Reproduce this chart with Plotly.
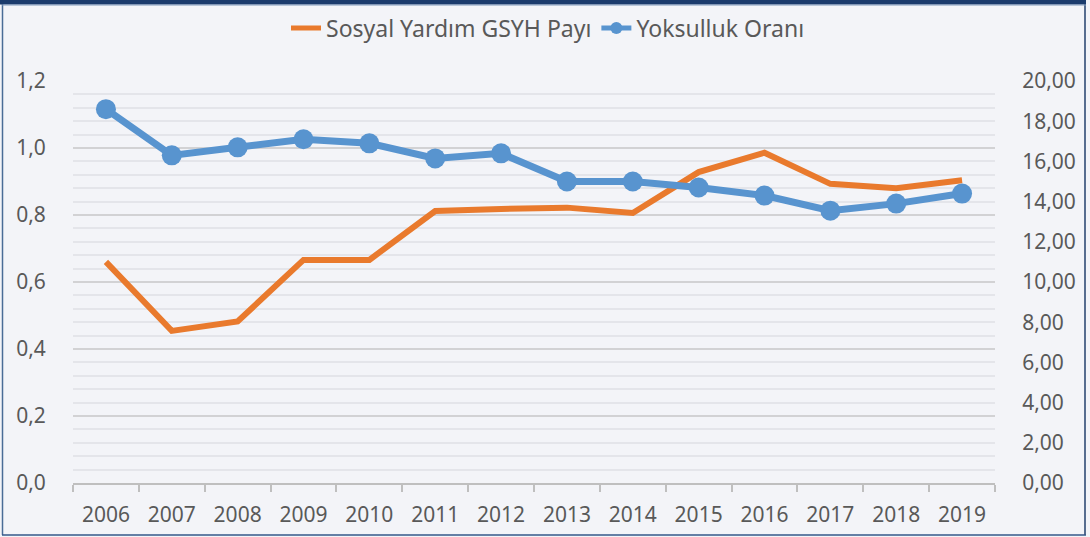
import plotly.graph_objects as go

years = ["2006", "2007", "2008", "2009", "2010", "2011", "2012",
         "2013", "2014", "2015", "2016", "2017", "2018", "2019"]
sosyal_yardim = [0.66, 0.454, 0.482, 0.666, 0.666, 0.812, 0.818,
                 0.822, 0.806, 0.928, 0.986, 0.893, 0.880, 0.904]
yoksulluk = [18.6, 16.3, 16.7, 17.1, 16.9, 16.15, 16.4,
             15.0, 15.0, 14.7, 14.3, 13.55, 13.9, 14.4]

ORANGE = "#E97A2D"
BLUE = "#5894CF"
TXT = "#595959"
FONT = "Noto Sans"

fig = go.Figure()
fig.add_trace(go.Scatter(
    x=years, y=sosyal_yardim, name="Sosyal Yardım GSYH Payı",
    mode="lines", line=dict(color=ORANGE, width=6), yaxis="y"))
fig.add_trace(go.Scatter(
    x=years, y=yoksulluk, name="Yoksulluk Oranı",
    mode="lines+markers", line=dict(color=BLUE, width=7),
    marker=dict(color=BLUE, size=20), yaxis="y2"))

L, R, T, B = 73, 95, 81, 54
W, H = 1090, 537
pw, ph = W - L - R, H - T - B

def px(x):
    return (x - L) / pw

def py(y):
    return (H - B - y) / ph

shapes = [
    # frame
    dict(type="line", xref="paper", yref="paper", x0=px(2.5), x1=px(2.5), y0=py(2), y1=py(535),
         line=dict(color="#4A6C96", width=1.5)),
    dict(type="line", xref="paper", yref="paper", x0=px(1085), x1=px(1085), y0=py(2), y1=py(535),
         line=dict(color="#23406D", width=1.5)),
    dict(type="line", xref="paper", yref="paper", x0=px(2), x1=px(1086), y0=py(535), y1=py(535),
         line=dict(color="#34598A", width=1.5)),
    dict(type="rect", xref="paper", yref="paper", x0=px(0), x1=px(1086), y0=py(0), y1=py(4.5),
         fillcolor="#1B3B6C", line=dict(width=0)),
    dict(type="line", xref="paper", yref="paper", x0=px(2), x1=px(1086), y0=py(5), y1=py(5),
         line=dict(color="#7F97BA", width=1)),
]

fig.update_layout(
    width=W, height=H,
    margin=dict(l=L, r=R, t=T, b=B, autoexpand=False),
    paper_bgcolor="#F3F4F8", plot_bgcolor="#F3F4F8",
    separators=", ",
    font=dict(family=FONT, color=TXT, size=20),
    showlegend=True,
    legend=dict(orientation="h", x=px(548), xanchor="center", y=py(28), yanchor="middle",
                font=dict(size=23, color=TXT), bgcolor="rgba(0,0,0,0)",
                itemsizing="constant", tracegroupgap=0),
    xaxis=dict(type="category", tickson="boundaries", ticks="outside", ticklen=7,
               tickcolor="#BFBFBF", tickwidth=1.5, showline=True, linecolor="#BFBFBF",
               linewidth=1.5, showgrid=False, tickfont=dict(size=21, color=TXT),
               ticklabelstandoff=12, range=[-0.5, 13.5], automargin=False),
    yaxis=dict(range=[0, 1.2], dtick=0.2, tickformat=".1f", showgrid=True,
               gridcolor="#D2D2D4", gridwidth=1.5, zeroline=False, showline=False,
               ticks="outside", ticklen=22, tickcolor="rgba(0,0,0,0)",
               tickfont=dict(size=21, color=TXT), automargin=False,
               minor=dict(dtick=0.04, showgrid=True, gridcolor="#E4E5EA", gridwidth=1.5)),
    yaxis2=dict(range=[0, 20], dtick=2, tickformat=".2f", overlaying="y", side="right",
                showgrid=False, zeroline=False, showline=False,
                ticks="outside", ticklen=22, tickcolor="rgba(0,0,0,0)",
                tickfont=dict(size=21, color=TXT), automargin=False),
    shapes=shapes,
)

fig.write_html("out.html", config={"displayModeBar": False},
               post_script="document.body.style.margin='0';document.body.style.overflow='hidden';")
